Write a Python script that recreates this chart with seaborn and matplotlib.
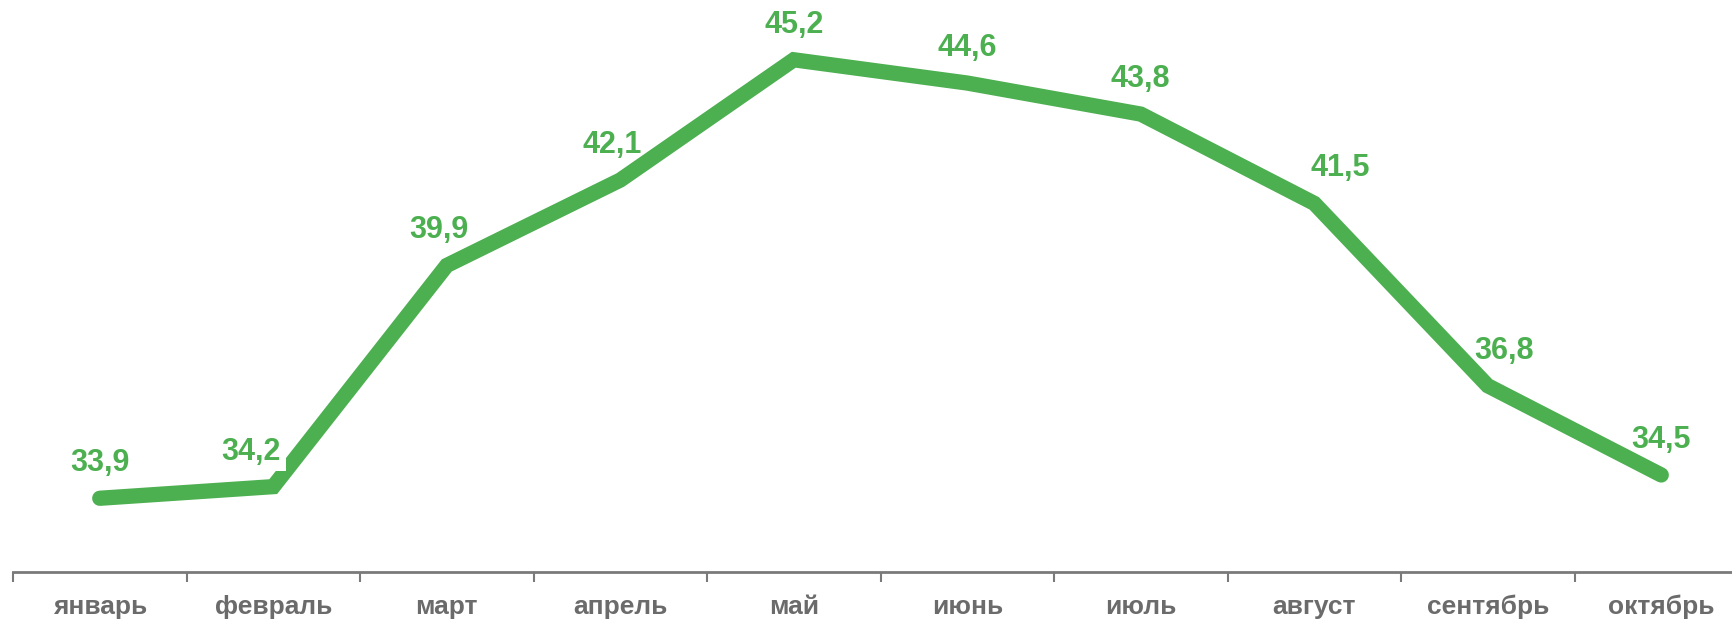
import numpy as np
import pandas as pd
import matplotlib
matplotlib.use('Agg')
import matplotlib.pyplot as plt
import seaborn as sns

months = ['январь', 'февраль', 'март', 'апрель', 'май', 'июнь',
          'июль', 'август', 'сентябрь', 'октябрь']
values = [33.9, 34.2, 39.9, 42.1, 45.2, 44.6, 43.8, 41.5, 36.8, 34.5]

GREEN = '#4caf50'
GRAY_TEXT = '#6b6b6b'
GRAY_AXIS = '#7a7a7a'

sns.set_style('white')
plt.rcParams['font.family'] = ['Liberation Sans', 'DejaVu Sans']

df = pd.DataFrame({'month': months, 'value': values})

fig = plt.figure(figsize=(17.32, 6.19), dpi=100)
ax = fig.add_axes([13 / 1732, 47 / 619, 1735 / 1732, 572 / 619])

sns.lineplot(data=df, x='month', y='value', sort=False, ax=ax,
             color=GREEN, linewidth=11, solid_capstyle='round',
             solid_joinstyle='miter')

ax.set_xlim(-0.5, len(months) - 0.5)
ax.set_ylim(32, 46.74)

# value labels (a couple are nudged sideways like in the original)
nudge = {1: -22, 7: 26, 8: 16, 2: -8, 3: -8}
for i, v in enumerate(values):
    ax.annotate(f'{v:.1f}'.replace('.', ','), (i, v),
                xytext=(nudge.get(i, 0), 35), textcoords='offset pixels',
                ha='center', va='center', fontsize=22, fontweight='bold',
                color=GREEN, zorder=5,
                bbox=dict(boxstyle='square,pad=0.15', fc='white', ec='none')
                if i == 1 else None)

for side in ['left', 'right', 'top']:
    ax.spines[side].set_visible(False)
ax.spines['bottom'].set_color(GRAY_AXIS)
ax.spines['bottom'].set_linewidth(2)

ax.set_xticks(range(len(months)))
ax.set_xticklabels(months)
ax.set_xticks(np.arange(-0.5, len(months), 1), minor=True)
ax.tick_params(axis='x', which='major', length=0, pad=16.5,
               labelsize=19, labelcolor=GRAY_TEXT)
for lbl in ax.get_xticklabels():
    lbl.set_fontweight('bold')
ax.tick_params(axis='x', which='minor', bottom=True, length=7,
               width=1.5, color=GRAY_AXIS, direction='out')
ax.set_yticks([])
ax.set_xlabel('')
ax.set_ylabel('')
ax.grid(False)

fig.savefig('out.png', dpi=100, facecolor='white')
plt.close(fig)
